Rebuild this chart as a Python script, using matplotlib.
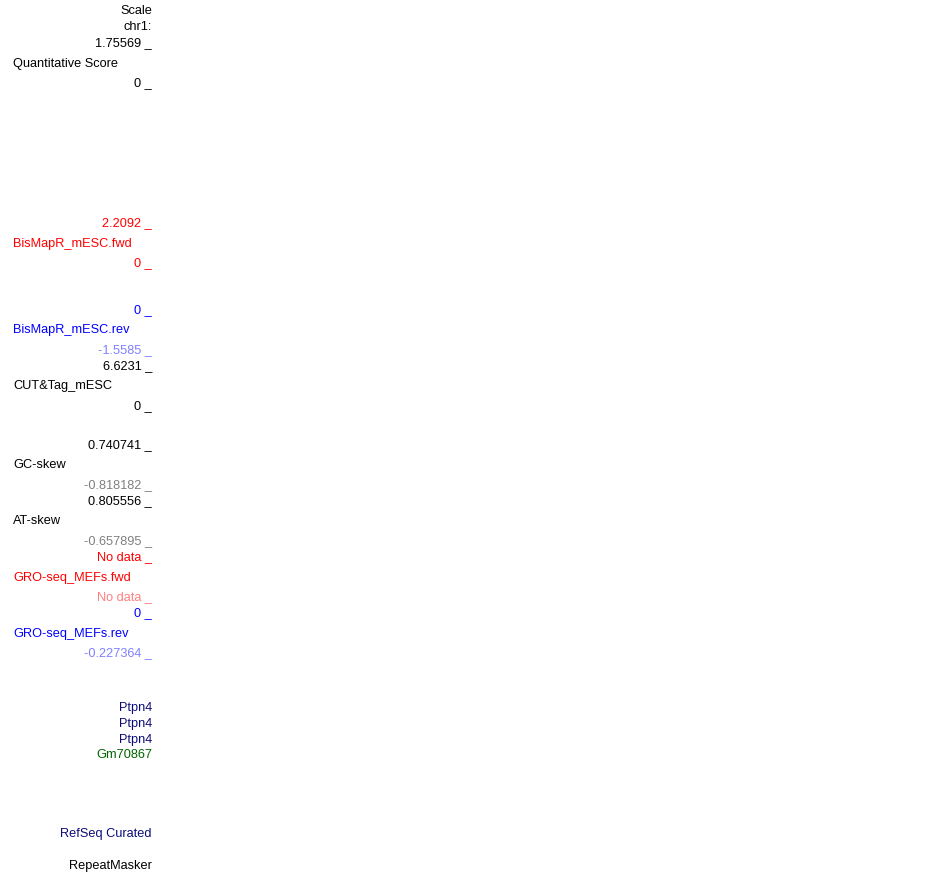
import matplotlib
matplotlib.use("Agg")
from matplotlib import pyplot as plt

# UCSC browser side labels: (text, y pixel, colour)
right_labels = ["Scale", "chr1:", "1.75569 _", "0 _",
                "2.2092 _", "0 _", "0 _", "-1.5585 _",
                "6.6231 _", "0 _",
                "0.740741 _", "-0.818182 _", "0.805556 _", "-0.657895 _",
                "No data _", "No data _", "0 _", "-0.227364 _",
                "Ptpn4", "Ptpn4", "Ptpn4", "Gm70867",
                "RefSeq Curated", "RepeatMasker"]
right_y = [10, 26, 42, 82,
           222, 262, 309, 349,
           365, 405,
           444, 484, 500, 540,
           556, 596, 612, 652,
           706, 722, 738, 754,
           833, 864]
right_col = ["black", "black", "black", "black",
             "#ff0000", "#ff0000", "#0000ff", "#8080ff",
             "black", "black",
             "black", "#808080", "black", "#808080",
             "#ff0000", "#ff8080", "#0000ff", "#8080ff",
             "#0c0c78", "#0c0c78", "#0c0c78", "#006400",
             "#0c0c78", "black"]

left_labels = ["Quantitative Score", "BisMapR_mESC.fwd", "BisMapR_mESC.rev",
               "CUT&Tag_mESC", "GC-skew", "AT-skew",
               "GRO-seq_MEFs.fwd", "GRO-seq_MEFs.rev"]
left_y = [62, 242, 329, 385, 464, 520, 576, 632]
left_col = ["black", "#ff0000", "#0000ff", "black", "black", "black",
            "#ff0000", "#0000ff"]

fig = plt.figure(figsize=(9.5, 8.73), dpi=100)
ax = fig.add_axes([0, 0, 1, 1])
ax.set_xlim(0, 950)
ax.set_ylim(873, 0)
ax.axis("off")

for t, y, c in zip(right_labels, right_y, right_col):
    ax.text(152, y + 1.5, t, ha="right", va="center", color=c,
            fontsize=9.2, family="Liberation Sans")

for t, y, c in zip(left_labels, left_y, left_col):
    ax.text(13, y + 1.5, t, ha="left", va="center", color=c,
            fontsize=9.2, family="Liberation Sans")

fig.savefig("out.png", dpi=100, facecolor="white")
